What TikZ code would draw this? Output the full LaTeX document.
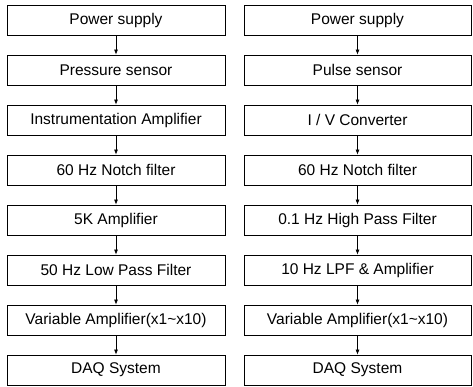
\documentclass[tikz,border=0pt]{standalone}
\usepackage{fontspec}
\setmainfont{Liberation Sans}
\usetikzlibrary{arrows.meta,positioning}

\begin{document}
\begin{tikzpicture}[x=1pt, y=1pt, node distance=19.2pt,
    blk/.style={draw, line width=0.8pt, minimum height=30pt, inner sep=0pt,
      font=\fontsize{15.5}{18}\selectfont},
    lblk/.style={blk, minimum width=218pt},
    rblk/.style={blk, minimum width=227pt},
    flow/.style={-{Latex[length=5pt,width=4pt]}, line width=0.7pt}]
  \useasboundingbox (0,0) rectangle (473,-387);
  % pressure chain
  \node[lblk] (L1) at (116,-20) {Power supply};
  \node[lblk, below=of L1] (L2) {Pressure sensor};
  \node[lblk, below=of L2] (L3) {Instrumentation Amplifier};
  \node[lblk, below=of L3] (L4) {60 Hz Notch filter};
  \node[lblk, below=of L4] (L5) {5K Amplifier};
  \node[lblk, below=of L5] (L6) {50 Hz Low Pass Filter};
  \node[lblk, below=of L6] (L7) {Variable Amplifier(x1\textasciitilde x10)};
  \node[lblk, below=of L7] (L8) {DAQ System};
  % pulse chain
  \node[rblk] (R1) at (357.5,-20) {Power supply};
  \node[rblk, below=of R1] (R2) {Pulse sensor};
  \node[rblk, below=of R2] (R3) {I / V Converter};
  \node[rblk, below=of R3] (R4) {60 Hz Notch filter};
  \node[rblk, below=of R4] (R5) {0.1 Hz High Pass Filter};
  \node[rblk, below=of R5] (R6) {10 Hz LPF \& Amplifier};
  \node[rblk, below=of R6] (R7) {Variable Amplifier(x1\textasciitilde x10)};
  \node[rblk, below=of R7] (R8) {DAQ System};
  \foreach \i [evaluate=\i as \j using int(\i+1)] in {1,...,7} {
    \draw[flow] (L\i) -- (L\j);
    \draw[flow] (R\i) -- (R\j);
  }
\end{tikzpicture}
\end{document}
